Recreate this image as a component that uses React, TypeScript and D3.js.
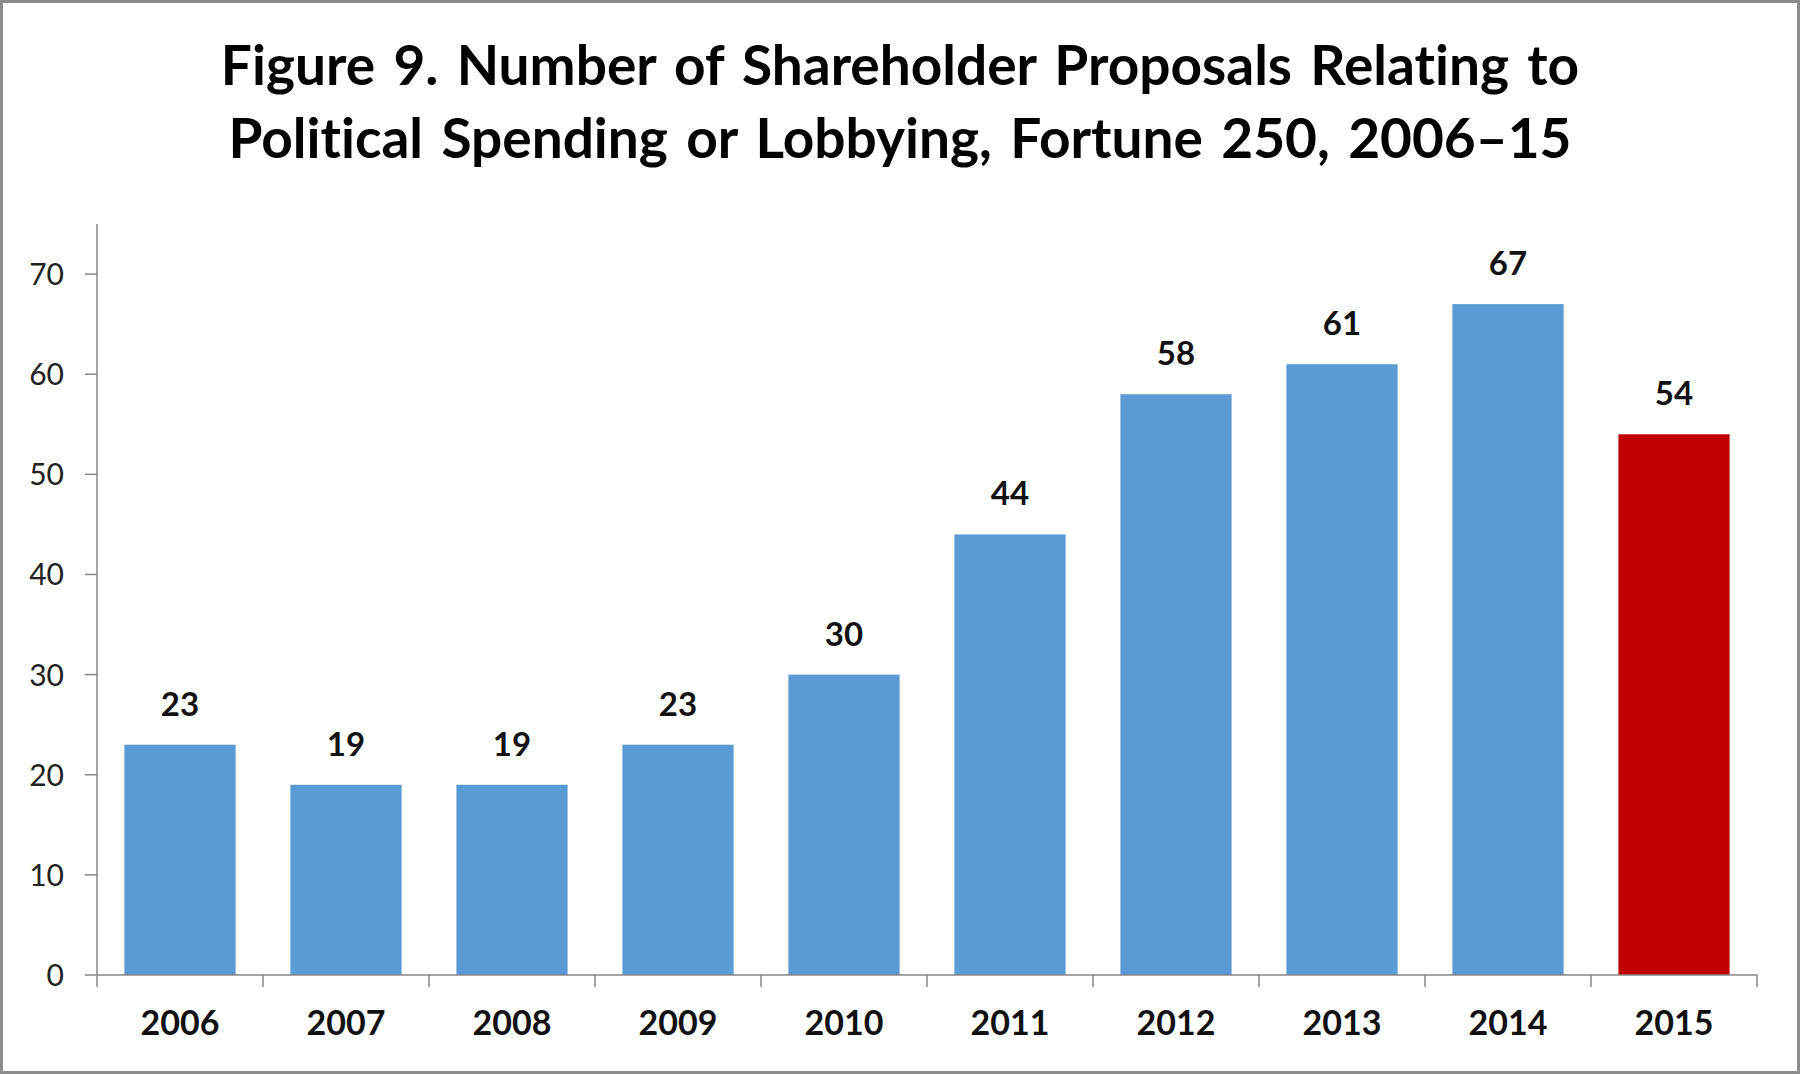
import { useEffect, useRef } from 'react';
import * as d3 from 'd3';

const years = ['2006', '2007', '2008', '2009', '2010', '2011', '2012', '2013', '2014', '2015'];
const proposals = [23, 19, 19, 23, 30, 44, 58, 61, 67, 54];
const yTicks = [0, 10, 20, 30, 40, 50, 60, 70];
const titleLines = [
  'Figure 9. Number of Shareholder Proposals Relating to',
  'Political Spending or Lobbying, Fortune 250, 2006–15',
];

const W = 1800;
const H = 1074;
const FONT = 'Lato, "Open Sans", sans-serif';

export default function App() {
  const svgRef = useRef<SVGSVGElement>(null);

  useEffect(() => {
    document.body.style.margin = '0';
    const svg = d3.select(svgRef.current);
    svg.selectAll('*').remove();

    const left = 97, right = 1757, top = 224, bottom = 975;

    const x = d3.scaleBand<string>().domain(years).range([left, right])
      .paddingInner(0.33).paddingOuter(0.165);
    const y = d3.scaleLinear().domain([0, 75]).range([bottom, top]);
    const step = x.step();

    // frame
    svg.append('rect').attr('x', 1.5).attr('y', 1.5).attr('width', W - 3).attr('height', H - 3)
      .attr('fill', '#fff').attr('stroke', '#8c8c8c').attr('stroke-width', 3);

    // title
    titleLines.forEach((t, i) => {
      svg.append('text').attr('x', 900).attr('y', 85 + i * 73)
        .attr('text-anchor', 'middle').attr('font-family', FONT)
        .attr('font-weight', 'bold').attr('font-size', 55).attr('fill', '#000')
        .attr('word-spacing', 5)
        .style('font-variant-ligatures', 'none')
        .text(t);
    });

    // bars
    svg.append('g').selectAll('rect').data(proposals).join('rect')
      .attr('x', (_, i) => x(years[i])!)
      .attr('y', d => y(d))
      .attr('width', x.bandwidth())
      .attr('height', d => y(0) - y(d))
      .attr('fill', (_, i) => (i === years.length - 1 ? '#C00000' : '#5B9BD5'));

    // value labels
    svg.append('g').selectAll('text').data(proposals).join('text')
      .attr('x', (_, i) => x(years[i])! + x.bandwidth() / 2)
      .attr('y', d => y(d) - 29)
      .attr('text-anchor', 'middle').attr('font-family', FONT)
      .attr('font-weight', 'bold').attr('font-size', 33).attr('fill', '#111')
      .text(d => d);

    // y axis
    const axisColor = '#868686';
    svg.append('line').attr('x1', left).attr('x2', left).attr('y1', top).attr('y2', bottom)
      .attr('stroke', axisColor).attr('stroke-width', 1.5);
    yTicks.forEach(t => {
      svg.append('line').attr('x1', left - 12).attr('x2', left).attr('y1', y(t)).attr('y2', y(t))
        .attr('stroke', axisColor).attr('stroke-width', 1.5);
      svg.append('text').attr('x', 64).attr('y', y(t) + 11)
        .attr('text-anchor', 'end').attr('font-family', FONT)
        .attr('font-size', 30).attr('fill', '#222')
        .text(t);
    });

    // x axis
    svg.append('line').attr('x1', left).attr('x2', right).attr('y1', bottom).attr('y2', bottom)
      .attr('stroke', axisColor).attr('stroke-width', 1.5);
    d3.range(years.length + 1).forEach(i => {
      const tx = left + i * step;
      svg.append('line').attr('x1', tx).attr('x2', tx).attr('y1', bottom).attr('y2', bottom + 12)
        .attr('stroke', axisColor).attr('stroke-width', 1.5);
    });
    years.forEach(yr => {
      svg.append('text').attr('x', x(yr)! + x.bandwidth() / 2).attr('y', 1035)
        .attr('text-anchor', 'middle').attr('font-family', FONT)
        .attr('font-weight', 'bold').attr('font-size', 34).attr('fill', '#111')
        .text(yr);
    });
  }, []);

  return <svg ref={svgRef} width={W} height={H} style={{ display: 'block' }} />;
}
